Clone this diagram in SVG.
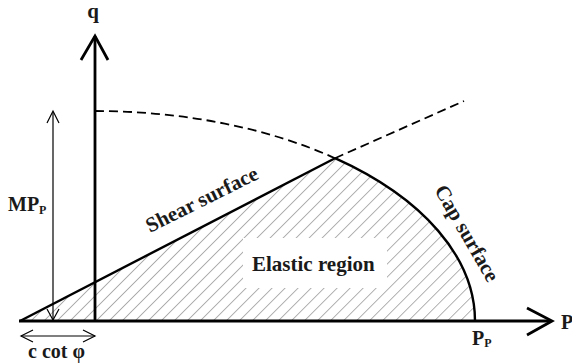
<svg xmlns="http://www.w3.org/2000/svg" width="572" height="364" viewBox="0 0 572 364">
<defs>
<style>
.t{font-family:"Liberation Serif","Times New Roman",serif;font-weight:bold;fill:#1a1a1a}
.ax{stroke:#000;stroke-width:2.8;fill:none}
.cv{stroke:#000;stroke-width:2.4;fill:none}
.ds{stroke:#000;stroke-width:1.8;fill:none;stroke-dasharray:9 5}
.th{stroke:#000;stroke-width:1.2;fill:none}
</style>
<pattern id="hatch" patternUnits="userSpaceOnUse" width="9.2" height="9.2" patternTransform="rotate(45)">
<line x1="0" y1="0" x2="0" y2="9.2" stroke="#555" stroke-width="0.9"/>
</pattern>
<clipPath id="reg">
<path d="M20,321 L335,158.2 A380,210 0 0 1 475,321 Z"/>
</clipPath>
</defs>
<rect width="572" height="364" fill="#fff"/>
<g id="hatching">
<path d="M20,321 L335,158.2 A380,210 0 0 1 475,321 Z" fill="url(#hatch)"/>
<rect x="243" y="238" width="144" height="50" fill="#fff"/>
</g>
<g id="connectors">
<path class="ds" d="M95,111 A380,210 0 0 1 335,158.2"/>
<path class="ds" d="M335,158.2 L464,101"/>
<path class="cv" d="M20,321 L335,158.2"/>
<path class="cv" d="M335,158.2 A380,210 0 0 1 475,321"/>
</g>
<g id="axes">
<path class="ax" d="M95,321 L95,36"/>
<path class="ax" d="M81,60 L95,36 L108,60"/>
<path class="ax" d="M19,321 L551,321"/>
<path class="ax" d="M527,308 L552,321 L527,335"/>
</g>
<g id="mp-arrow">
<path class="th" d="M53,112 L53,320"/>
<path class="th" d="M47,123 L53,111 L59,123"/>
<path class="th" d="M47,309 L53,320 L59,309"/>
</g>
<g id="ccot-arrow">
<path class="th" d="M21,336 L95,336"/>
<path class="th" d="M33,330 L21,336 L33,342"/>
<path class="th" d="M83,330 L95,336 L83,342"/>
</g>
<g id="labels">
<text class="t" x="93" y="18" font-size="21" text-anchor="middle">q</text>
<text class="t" x="561" y="329" font-size="20">P</text>
<text class="t" x="8" y="211" font-size="20">MP<tspan font-size="12" dy="3">P</tspan></text>
<text class="t" x="28" y="358" font-size="20">c cot φ</text>
<text class="t" x="472" y="345" font-size="20">P<tspan font-size="12" dy="2">P</tspan></text>
<text class="t" x="252" y="271" font-size="21">Elastic region</text>
<text class="t" font-size="21" transform="translate(150,233) rotate(-26.5)">Shear surface</text>
<text class="t" font-size="21" transform="translate(434,190) rotate(60)">Cap surface</text>
</g>
</svg>
